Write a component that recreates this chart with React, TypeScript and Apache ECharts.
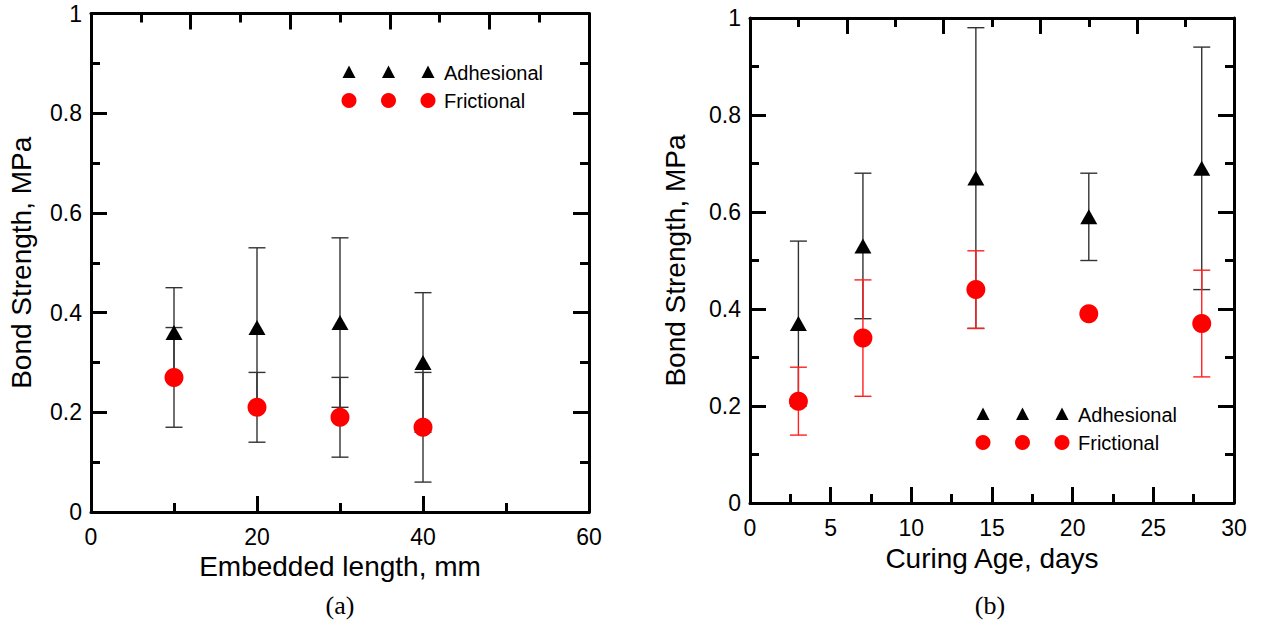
import React, { useEffect, useRef } from "react";
import * as echarts from "echarts";

// Chart (a): embedded length
const aX = [10, 20, 30, 40];
const aAdh = [0.36, 0.37, 0.38, 0.3];
const aAdhErr = [0.09, 0.16, 0.17, 0.14];
const aFric = [0.27, 0.21, 0.19, 0.17];
const aFricErr = [0.1, 0.07, 0.08, 0.11];

// Chart (b): curing age
const bX = [3, 7, 14, 21, 28];
const bAdh = [0.37, 0.53, 0.67, 0.59, 0.69];
const bAdhErr = [0.17, 0.15, 0.31, 0.09, 0.25];
const bFric = [0.21, 0.34, 0.44, 0.39, 0.37];
const bFricErr = [0.07, 0.12, 0.08, 0, 0.11];

const aXTicks = { min: 0, max: 60, interval: 20, topInterval: 12 };
const bXTicks = { min: 0, max: 30, interval: 5, topInterval: 6 };
const yTicks = { min: 0, max: 1, interval: 0.2 };

const FONT = "Liberation Sans, Arial, sans-serif";

function errData(xs: number[], ys: number[], errs: number[]) {
  return xs
    .map((x, i) => [x, ys[i] - errs[i], ys[i] + errs[i]])
    .filter((_, i) => errs[i] > 0);
}

function errSeries(data: number[][], gi: number, color: string) {
  return {
    type: "custom",
    xAxisIndex: gi * 2,
    yAxisIndex: gi * 2,
    data,
    z: 2,
    renderItem: (params: any, api: any) => {
      const x = api.value(0);
      const lo = api.value(1);
      const hi = api.value(2);
      const p1 = api.coord([x, hi]);
      const p2 = api.coord([x, lo]);
      const hw = 8.5;
      const st = { stroke: color, lineWidth: 1.4 };
      return {
        type: "group",
        children: [
          { type: "line", shape: { x1: p1[0], y1: p1[1], x2: p2[0], y2: p2[1] }, style: st },
          { type: "line", shape: { x1: p1[0] - hw, y1: p1[1], x2: p1[0] + hw, y2: p1[1] }, style: st },
          { type: "line", shape: { x1: p2[0] - hw, y1: p2[1], x2: p2[0] + hw, y2: p2[1] }, style: st },
        ],
      };
    },
  };
}

function xAxes(gi: number, t: any, name: string, nameGap: number) {
  const common = {
    gridIndex: gi,
    type: "value",
    min: t.min,
    max: t.max,
    axisLine: { show: true, onZero: false, lineStyle: { color: "#000", width: 3 } },
    splitLine: { show: false },
    minorSplitLine: { show: false },
  };
  return [
    {
      ...common,
      position: "bottom",
      interval: t.interval,
      axisTick: { show: true, inside: true, length: 16, lineStyle: { color: "#000", width: 3 } },
      minorTick: { show: true, splitNumber: 2, length: 9, lineStyle: { color: "#000", width: 3 } },
      axisLabel: { show: true, margin: 13, fontSize: 23, color: "#000", fontFamily: FONT },
      name,
      nameLocation: "middle",
      nameGap,
      nameTextStyle: { fontSize: 28, color: "#000", fontFamily: FONT },
    },
    {
      ...common,
      position: "top",
      interval: t.topInterval,
      axisTick: { show: true, inside: true, length: 16, lineStyle: { color: "#000", width: 3 } },
      minorTick: { show: true, splitNumber: 2, length: 9, lineStyle: { color: "#000", width: 3 } },
      axisLabel: { show: false },
    },
  ];
}

function yAxes(gi: number, name: string, nameGap: number) {
  const common = {
    gridIndex: gi,
    type: "value",
    min: yTicks.min,
    max: yTicks.max,
    interval: yTicks.interval,
    axisLine: { show: true, onZero: false, lineStyle: { color: "#000", width: 3 } },
    splitLine: { show: false },
    minorSplitLine: { show: false },
    axisTick: { show: true, inside: true, length: 16, lineStyle: { color: "#000", width: 3 } },
    minorTick: { show: true, splitNumber: 2, length: 9, lineStyle: { color: "#000", width: 3 } },
  };
  return [
    {
      ...common,
      position: "left",
      axisLabel: { show: true, margin: 9, fontSize: 23, color: "#000", fontFamily: FONT },
      name,
      nameLocation: "middle",
      nameGap,
      nameTextStyle: { fontSize: 28, color: "#000", fontFamily: FONT },
    },
    { ...common, position: "right", axisLabel: { show: false } },
  ];
}

function scatter(gi: number, xs: number[], ys: number[], kind: "tri" | "dot") {
  return {
    type: "scatter",
    xAxisIndex: gi * 2,
    yAxisIndex: gi * 2,
    z: 5,
    data: xs.map((x, i) => [x, ys[i]]),
    symbol: kind === "tri" ? "triangle" : "circle",
    symbolSize: kind === "tri" ? [17, 15] : 19,
    itemStyle: { color: kind === "tri" ? "#000" : "#ff0000", opacity: 1 },
    emphasis: { disabled: true },
  };
}

function legend(x0: number, y0: number): any[] {
  const xs = [x0, x0 + 39.5, x0 + 79];
  const els: any[] = [];
  xs.forEach((x) => {
    els.push({
      type: "polygon",
      shape: { points: [[x, y0 - 6.5], [x + 6.5, y0 + 6], [x - 6.5, y0 + 6]] },
      style: { fill: "#000" },
    });
    els.push({ type: "circle", shape: { cx: x, cy: y0 + 28.5, r: 7.5 }, style: { fill: "#ff0000" } });
  });
  els.push({
    type: "text",
    x: x0 + 95,
    y: y0 + 1,
    style: { text: "Adhesional", font: `20px ${FONT}`, fill: "#000", verticalAlign: "middle" },
  });
  els.push({
    type: "text",
    x: x0 + 95,
    y: y0 + 29,
    style: { text: "Frictional", font: `20px ${FONT}`, fill: "#000", verticalAlign: "middle" },
  });
  return els;
}

export default function App() {
  const ref = useRef<HTMLDivElement>(null);
  useEffect(() => {
    if (!ref.current) return;
    const chart = echarts.init(ref.current, null, { renderer: "svg" });
    chart.setOption({
      animation: false,
      backgroundColor: "#fff",
      grid: [
        { left: 91, top: 13.5, width: 498, height: 498.5 },
        { left: 750, top: 18, width: 484, height: 485 },
      ],
      xAxis: [
        ...xAxes(0, aXTicks, "Embedded length, mm", 33),
        ...xAxes(1, bXTicks, "Curing Age, days", 41),
      ],
      yAxis: [...yAxes(0, "Bond Strength, MPa", 56), ...yAxes(1, "Bond Strength, MPa", 61)],
      series: [
        errSeries(errData(aX, aAdh, aAdhErr), 0, "#333"),
        errSeries(errData(aX, aFric, aFricErr), 0, "#333"),
        scatter(0, aX, aFric, "dot"),
        scatter(0, aX, aAdh, "tri"),
        errSeries(errData(bX, bAdh, bAdhErr), 1, "#333"),
        errSeries(errData(bX, bFric, bFricErr), 1, "#ff2020"),
        scatter(1, bX, bFric, "dot"),
        scatter(1, bX, bAdh, "tri"),
      ],
      graphic: [
        ...legend(349, 72),
        ...legend(983, 414),
        {
          type: "text",
          x: 340,
          y: 605,
          style: { text: "(a)", font: "26px Liberation Serif, Times New Roman, serif", fill: "#000", align: "center", verticalAlign: "middle" },
        },
        {
          type: "text",
          x: 990,
          y: 605,
          style: { text: "(b)", font: "26px Liberation Serif, Times New Roman, serif", fill: "#000", align: "center", verticalAlign: "middle" },
        },
      ],
    });
    return () => chart.dispose();
  }, []);
  return (
    <div
      ref={ref}
      style={{ position: "fixed", left: 0, top: 0, width: 1261, height: 623, background: "#fff" }}
    />
  );
}
